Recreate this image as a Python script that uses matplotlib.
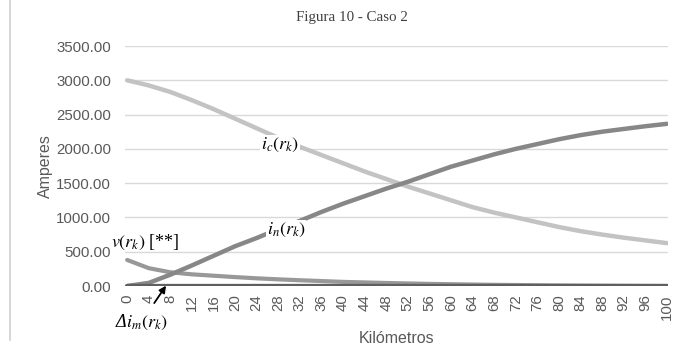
import matplotlib
matplotlib.use("Agg")
import matplotlib.pyplot as plt
from matplotlib.lines import Line2D

# distance along the line (km), sampled every 4 km
km = [0, 4, 8, 12, 16, 20, 24, 28, 32, 36, 40, 44, 48, 52, 56, 60, 64, 68, 72, 76,
      80, 84, 88, 92, 96, 100]

# currents (A)
i_c = [3000, 2925, 2830, 2710, 2580, 2440, 2300, 2160, 2030, 1910, 1790, 1670, 1560,
       1450, 1350, 1250, 1150, 1070, 1000, 930, 860, 800, 750, 705, 665, 625]
i_n = [0, 45, 165, 300, 440, 580, 700, 830, 950, 1080, 1200, 1310, 1420, 1520, 1630,
       1740, 1830, 1920, 2000, 2070, 2140, 2200, 2250, 2290, 2330, 2365]
v_r = [380, 260, 200, 170, 150, 130, 112, 97, 84, 72, 60, 52, 44, 37, 31, 26, 21, 17,
       14, 11, 8, 6, 4, 3, 1, 0]
d_im = [5, 5, 5, 5, 5, 5, 5, 5, 5, 5, 5, 5, 5, 5, 5, 5, 5, 5, 5, 5, 5, 5, 5, 5, 5, 5]

y_ticks = [0, 500, 1000, 1500, 2000, 2500, 3000, 3500]
x_ticks = list(range(0, 101, 4))

plt.rcParams["mathtext.fontset"] = "stix"
plt.rcParams["font.family"] = "Liberation Sans"

fig = plt.figure(figsize=(6.73, 3.54), dpi=100)
ax = fig.add_axes([125 / 673, 1 - 286 / 354, 543 / 673, 240 / 354])

ax.plot(km, i_c, color="#c3c3c3", lw=3.2, solid_capstyle="round", zorder=3)
ax.plot(km, i_n, color="#878787", lw=3.2, solid_capstyle="round", zorder=4)
ax.plot(km, v_r, color="#989898", lw=3.0, solid_capstyle="round", zorder=3)
ax.plot(km, d_im, color="#5f5f5f", lw=3.8, solid_capstyle="round", zorder=5)

ax.set_xlim(-0.4, 100.2)
ax.set_ylim(0, 3500)
ax.set_yticks(y_ticks)
ax.set_yticklabels([f"{t:.2f}" for t in y_ticks])
ax.set_xticks(x_ticks)
ax.set_xticklabels([str(t) for t in x_ticks], rotation=90)
ax.tick_params(axis="both", length=0, labelsize=10.8, colors="#595959")
ax.tick_params(axis="x", pad=6)
ax.tick_params(axis="y", pad=10)
ax.grid(axis="y", color="#d9d9d9", lw=1.0)
ax.set_axisbelow(True)
for s in ax.spines.values():
    s.set_visible(False)

ax.set_ylabel("Amperes", fontsize=11.5, color="#595959", labelpad=2)
ax.set_xlabel("Kilómetros", fontsize=11.5, color="#595959", labelpad=8)

fig.text(352 / 673, 1 - 17 / 354, "Figura 10 - Caso 2", family="Liberation Serif",
         fontsize=10.8, color="#404040", ha="center", va="center")

box = dict(facecolor="white", edgecolor="none", pad=0.5)
serif = "Liberation Serif"
ax.text(28.3, 2055, r"$i_c(r_k)$", fontsize=13, ha="center", va="center", bbox=box, zorder=6)
ax.text(29.5, 820, r"$i_n(r_k)$", fontsize=13, ha="center", va="center", bbox=box, zorder=6)
ax.text(-3.0, 630, r"$v(r_k)$ [**]", fontsize=13, family=serif,
        ha="left", va="center", zorder=6)
ax.annotate(r"Δ$i_m(r_k)$", xy=(7.2, 5), xytext=(2.6, -530),
            fontsize=13, family=serif, style="italic",
            ha="center", va="center", annotation_clip=False,
            arrowprops=dict(arrowstyle="-|>", color="black", lw=1.3,
                            shrinkA=6, shrinkB=0, mutation_scale=10), zorder=6)

fig.add_artist(Line2D([10 / 673, 10 / 673], [14 / 354, 1], color="#cfcfcf", lw=1.2))

fig.savefig("out.png", dpi=100)
